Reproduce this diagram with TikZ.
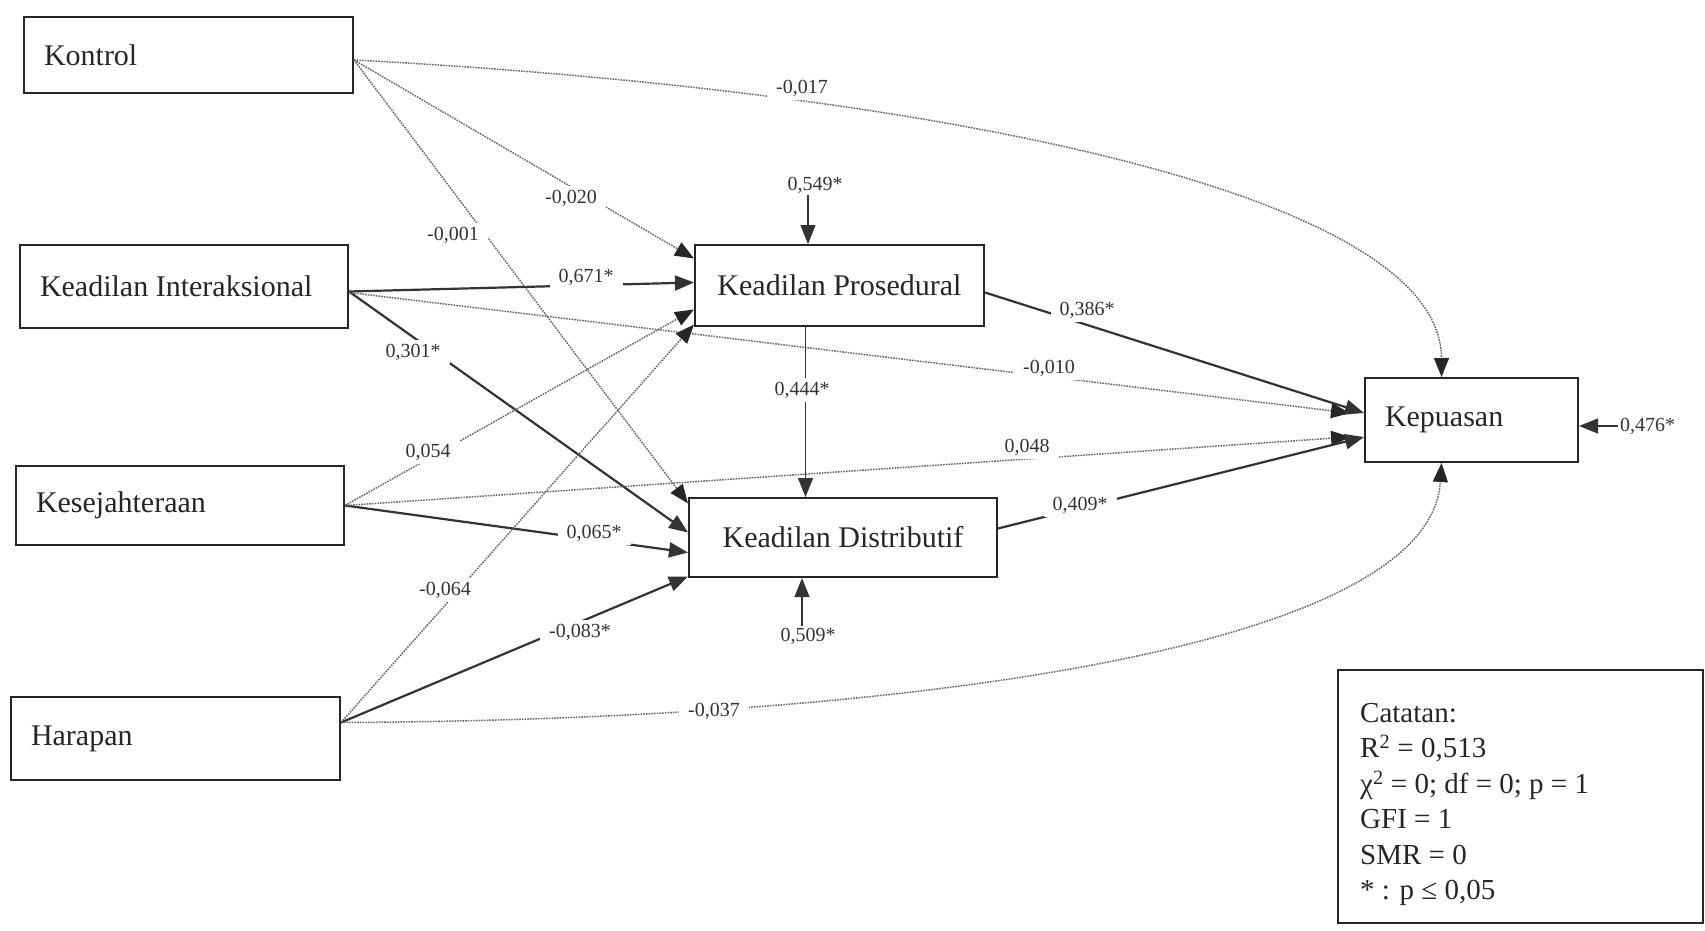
\documentclass[tikz,border=0pt]{standalone}
\usepackage{fontspec}
\setmainfont{Liberation Serif}
\usetikzlibrary{arrows.meta}
\begin{document}
\begin{tikzpicture}[x=1pt,y=-1pt,
  box/.style={draw=black!85, line width=2pt, fill=white, rectangle, font=\fontsize{30}{36}\selectfont, inner ysep=0pt, text=black!85},
  lbox/.style={box, align=flush left, inner xsep=20pt},
  cbox/.style={box, align=center},
  tip/.style={-{Triangle[length=19pt,width=15pt]}},
  sig/.style={tip, draw=black!80, line width=2.2pt},
  ns/.style={-{Triangle[length=19pt,width=15pt,color=black!85,fill=black!85]}, draw=black!60, line width=1.5pt, dash pattern=on 1.6pt off 1.1pt},
  thinarr/.style={tip, draw=black!80, line width=1.3pt},
  lab/.style={fill=white, font=\fontsize{20}{24}\selectfont, inner xsep=9pt, inner ysep=4pt, text=black!80},
  elab/.style={font=\fontsize{20}{24}\selectfont, inner sep=2pt, text=black!80},
]
\useasboundingbox (0,0) rectangle (1705,931);

% boxes
\node[lbox, text width=289pt, minimum height=76pt] (kon) at (188.5,55) {Kontrol};
\node[lbox, text width=288pt, minimum height=83pt] (ki) at (184,286.5) {Keadilan Interaksional};
\node[lbox, text width=288pt, minimum height=79pt] (kes) at (180,505.5) {Kesejahteraan};
\node[lbox, text width=289pt, minimum height=83pt] (har) at (175.5,738.5) {Harapan};
\node[cbox, minimum width=289pt, minimum height=81pt] (kp) at (839.5,285.5) {Keadilan Prosedural};
\node[cbox, minimum width=308pt, minimum height=79pt] (kd) at (843,537.5) {Keadilan Distributif};
\node[lbox, text width=173pt, minimum height=84pt] (kep) at (1471.5,420) {Kepuasan};

% connectors
\draw[ns] ([yshift=-5pt]kon.east) .. controls (920,90) and (1441,190) .. ([xshift=-30pt]kep.north);
\draw[ns] ([yshift=-5pt]kon.east) -- ([yshift=27pt]kp.west);
\draw[ns] ([yshift=-5pt]kon.east) -- ([yshift=34pt]kd.west);
\draw[sig] ([yshift=-5pt]ki.east) -- ([yshift=3pt]kp.west);
\draw[sig] ([yshift=-5pt]ki.east) -- ([yshift=5pt]kd.west);
\draw[ns] ([yshift=-6pt]ki.east) -- ([xshift=-14pt,yshift=7pt]kep.west);
\draw[ns] (kes.east) -- ([yshift=-24pt]kp.west);
\draw[sig] (kes.east) -- ([yshift=-15pt]kd.west);
\draw[ns] (kes.east) -- ([xshift=-14pt,yshift=-17pt]kep.west);
\draw[ns] ([yshift=16pt]har.east) -- ([yshift=-39pt]kp.west);
\draw[sig] ([yshift=16pt]har.east) -- ([yshift=-39pt]kd.west);
\draw[ns] ([yshift=16pt]har.east) .. controls (900,720) and (1430,650) .. ([xshift=-30pt]kep.south);
\draw[sig] ([yshift=-7pt]kp.east) -- ([yshift=7pt]kep.west);
\draw[sig] ([yshift=9pt]kd.east) -- ([yshift=-17pt]kep.west);
\draw[thinarr] ([xshift=-34pt]kp.south) -- ([xshift=-34pt]kp.south |- kd.north);

% labels
\node[lab] (l017) at (802,88) {-0,017};
\node[lab] (l020) at (571,198) {-0,020};
\node[lab] (l001) at (453,235) {-0,001};
\node[lab] (l671) at (586,277) {0,671*};
\node[lab] (l301) at (413,352) {0,301*};
\node[lab] (l444) at (802,390) {0,444*};
\node[lab] (l054) at (428,452) {0,054};
\node[lab] (l065) at (594,533) {0,065*};
\node[lab] (l064) at (445,590) {-0,064};
\node[lab] (l083) at (580,632) {-0,083*};
\node[lab] (l037) at (714,711) {-0,037};
\node[lab] (l386) at (1087,310) {0,386*};
\node[lab] (l010) at (1049,368) {-0,010};
\node[lab] (l048) at (1027,447) {0,048};
\node[lab] (l409) at (1080,505) {0,409*};

% error terms
\node[elab] (l549) at (815,185) {0,549*};
\draw[thinarr] ([xshift=-7pt]l549.south) -- ([xshift=-7pt]l549.south |- kp.north);
\node[elab] (l509) at (808,636) {0,509*};
\draw[thinarr] ([xshift=-6pt]l509.north) -- ([xshift=-6pt]l509.north |- kd.south);
\node[elab, anchor=west] (l476) at (1618,426) {0,476*};
\draw[thinarr] (l476.west) -- (l476.west -| kep.east);

% note box
\node[draw=black!85, line width=2pt, minimum width=365pt, minimum height=253pt, inner sep=0pt] (cat) at (1520.5,796.5) {};
\node[anchor=north west, align=left, inner sep=0pt, font=\fontsize{29}{35.5}\selectfont, text=black!85] (cattext) at (1360,703) {Catatan:\\R\textsuperscript{2} = 0,513\\χ\textsuperscript{2} = 0; df = 0; p = 1\\GFI = 1\\SMR = 0\\* : p ≤ 0,05};
\end{tikzpicture}
\end{document}
